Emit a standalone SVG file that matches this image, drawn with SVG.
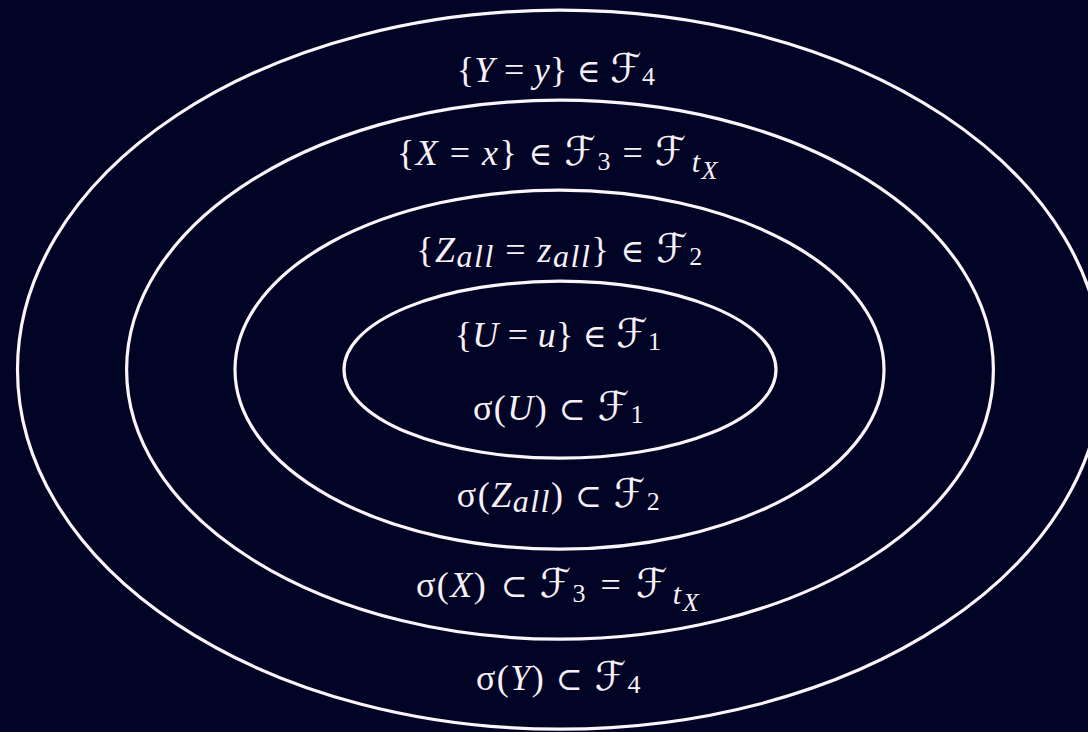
<svg xmlns="http://www.w3.org/2000/svg" width="1088" height="732" viewBox="0 0 1088 732">
<style>
.bg{fill:#020426}
.ring{fill:none;stroke:#fbf4fb;stroke-width:3.2}
text{font-family:"Liberation Serif","DejaVu Serif",serif;font-size:36px;fill:#f7f0f7;text-anchor:middle;letter-spacing:0.3px}
.w{letter-spacing:1.5px}
.i{font-style:italic}
.f{font-family:"DejaVu Serif","DejaVu Sans",serif;font-style:italic;font-size:40px}
.s{font-size:26px}
.r{font-size:32px}
</style>
<rect class="bg" x="0" y="0" width="1088" height="732"/>
<g id="ring4"><ellipse class="ring" cx="560" cy="369.7" rx="542.5" ry="359.5"/></g>
<g id="ring3"><ellipse class="ring" cx="560" cy="369.7" rx="433.4" ry="269.5"/></g>
<g id="ring2"><ellipse class="ring" cx="559.5" cy="369.7" rx="324.5" ry="179.5"/></g>
<g id="ring1"><ellipse class="ring" cx="560" cy="369.7" rx="216" ry="88.5"/></g>
<g id="labels">
<text x="556" y="82">{<tspan class="i">Y</tspan> = <tspan class="i">y</tspan>} <tspan class="r">∈</tspan> <tspan class="f">ℱ</tspan><tspan class="s" dy="3">4</tspan></text>
<text class="w" x="558" y="165">{<tspan class="i">X</tspan> = <tspan class="i">x</tspan>} <tspan class="r">∈</tspan> <tspan class="f">ℱ</tspan><tspan class="s" dy="5">3</tspan><tspan dy="-5"> = </tspan><tspan class="f">ℱ</tspan><tspan class="i" font-size="30" dy="7" dx="4">t</tspan><tspan class="i s" dy="7">X</tspan></text>
<text class="w" x="560" y="262">{<tspan class="i">Z</tspan><tspan class="i" font-size="32" dy="5">all</tspan><tspan dy="-5"> = </tspan><tspan class="i">z</tspan><tspan class="i" font-size="32" dy="5">all</tspan><tspan dy="-5">} </tspan><tspan class="r">∈</tspan> <tspan class="f">ℱ</tspan><tspan class="s" dy="3">2</tspan></text>
<text x="558" y="347">{<tspan class="i">U</tspan> = <tspan class="i">u</tspan>} <tspan class="r">∈</tspan> <tspan class="f">ℱ</tspan><tspan class="s" dy="3">1</tspan></text>
<text class="w" x="559" y="420">σ(<tspan class="i">U</tspan>) <tspan class="r">⊂</tspan> <tspan class="f">ℱ</tspan><tspan class="s" dy="3">1</tspan></text>
<text class="w" x="559" y="507">σ(<tspan class="i">Z</tspan><tspan class="i" font-size="32" dy="5">all</tspan><tspan dy="-5">) </tspan><tspan class="r">⊂</tspan> <tspan class="f">ℱ</tspan><tspan class="s" dy="3">2</tspan></text>
<text class="w" x="558" y="597">σ(<tspan class="i">X</tspan>) <tspan class="r" dx="3">⊂</tspan> <tspan class="f">ℱ</tspan><tspan class="s" dy="5">3</tspan><tspan dy="-5" dx="3"> = </tspan><tspan class="f" dx="3">ℱ</tspan><tspan class="i" font-size="30" dy="7" dx="4">t</tspan><tspan class="i s" dy="7">X</tspan></text>
<text class="w" x="559" y="690">σ(<tspan class="i">Y</tspan>) <tspan class="r">⊂</tspan> <tspan class="f">ℱ</tspan><tspan class="s" dy="3">4</tspan></text>
</g>
</svg>
